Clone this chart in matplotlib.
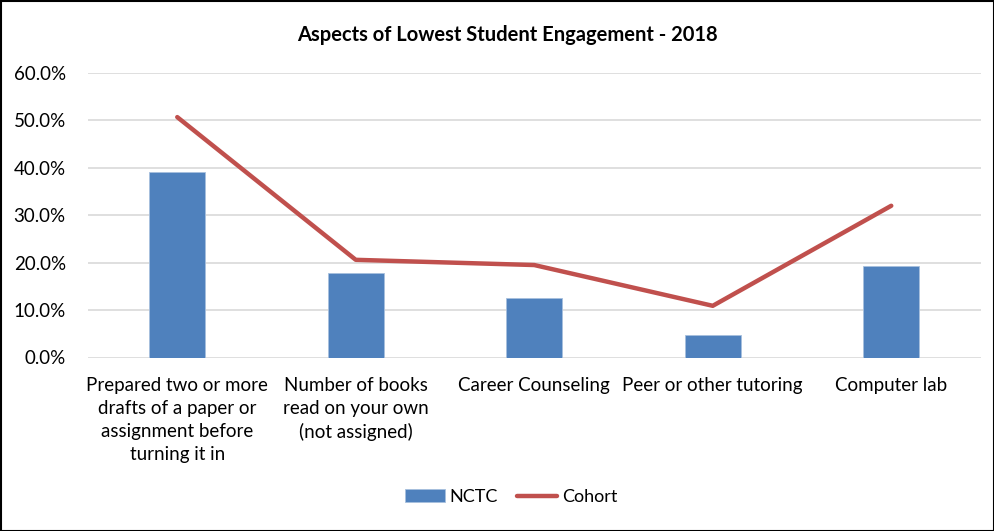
import matplotlib
matplotlib.use("Agg")
import matplotlib.pyplot as plt
from matplotlib.ticker import FuncFormatter
from matplotlib.patches import Rectangle

categories = ["Prepared two or more\ndrafts of a paper or\nassignment before\nturning it in",
              "Number of books\nread on your own\n(not assigned)",
              "Career Counseling",
              "Peer or other tutoring",
              "Computer lab"]
nctc = [0.391, 0.178, 0.126, 0.048, 0.193]
cohort = [0.507, 0.206, 0.195, 0.109, 0.320]
yticks = [0.0, 0.1, 0.2, 0.3, 0.4, 0.5, 0.6]

plt.rcParams['font.family'] = ['Lato', 'DejaVu Sans']

fig = plt.figure(figsize=(9.95, 5.31), dpi=100)
ax = fig.add_axes([88/995, 1-357.5/531, (980.5-88)/995, (357.5-73)/531])

x = list(range(len(categories)))
bars = ax.bar(x, nctc, width=0.315, color="#4f81bd", edgecolor="#a7c0de", linewidth=0.6, label="NCTC", zorder=2)
line, = ax.plot(x, cohort, color="#c0504d", linewidth=3.2, solid_capstyle="round", label="Cohort", zorder=3)

ax.set_xlim(-0.5, len(categories) - 0.5)
ax.set_ylim(0, 0.6)
ax.set_yticks(yticks)
ax.yaxis.set_major_formatter(FuncFormatter(lambda v, p: f"{v*100:.1f}%"))
ax.grid(axis="y", color="#d9d9d9", linewidth=1.2, zorder=0)
ax.set_axisbelow(True)
for s in ax.spines.values():
    s.set_visible(False)
ax.tick_params(axis="both", length=0, labelsize=13.5, colors="black")
ax.tick_params(axis="y", pad=16)
ax.set_xticks(x)
ax.set_xticklabels(categories, linespacing=1.42)
ax.tick_params(axis="x", pad=14)

fig.text(507/995, 1-35/531, "Aspects of Lowest Student Engagement - 2018", ha="center", va="center",
         fontsize=14.5, fontweight="bold")

leg = fig.legend([bars, line], ["NCTC", "Cohort"], loc="center", bbox_to_anchor=(511/995, 1-497/531),
                 ncol=2, frameon=False, fontsize=13, handlelength=2.2, handletextpad=0.25, columnspacing=1.1)

fig.patches.append(Rectangle((0.5/995, 0.5/531), 1-1.5/995, 1-1.5/531, transform=fig.transFigure,
                             fill=False, edgecolor="black", linewidth=1.5))

fig.savefig("out.png", dpi=100)
